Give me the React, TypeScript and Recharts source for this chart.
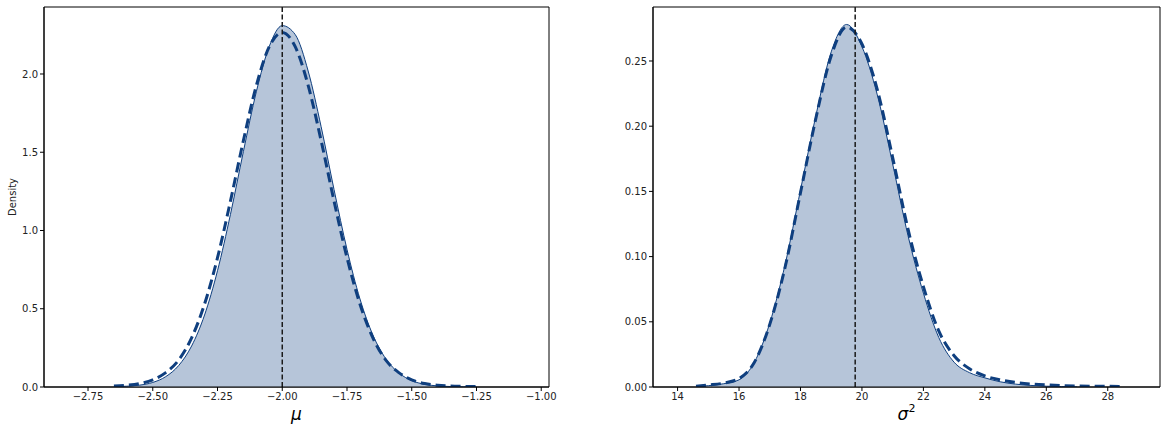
import React from 'react';
import { ComposedChart, Area, Line, XAxis, YAxis, ReferenceLine, ReferenceArea } from 'recharts';

// mu panel: grid, sampled KDE (filled), theoretical density (dashed)
const muGrid = [
  -2.65, -2.6, -2.55, -2.5, -2.45, -2.4, -2.35, -2.3, -2.25, -2.2,
  -2.15, -2.1, -2.05, -2.0, -1.95, -1.9, -1.85, -1.8, -1.75, -1.7,
  -1.65, -1.6, -1.55, -1.5, -1.45, -1.4, -1.35, -1.3, -1.25,
];
const muSample = [
  0.002, 0.005, 0.012, 0.029, 0.066, 0.137, 0.262, 0.46, 0.743, 1.103,
  1.505, 1.887, 2.177, 2.309, 2.252, 2.019, 1.664, 1.261, 0.879, 0.563,
  0.332, 0.18, 0.09, 0.041, 0.017, 0.007, 0.003, 0.001, 0.0005,
];
const muTheory = [
  0.006, 0.011, 0.022, 0.046, 0.092, 0.172, 0.314, 0.53, 0.826, 1.188,
  1.575, 1.927, 2.175, 2.265, 2.175, 1.927, 1.575, 1.188, 0.826, 0.53,
  0.314, 0.172, 0.092, 0.046, 0.022, 0.011, 0.006, 0.004, 0.003,
];
const muTrue = -2.0;
const muXTicks = [-2.75, -2.5, -2.25, -2.0, -1.75, -1.5, -1.25, -1.0];
const muYTicks = [0, 0.5, 1.0, 1.5, 2.0];

// sigma^2 panel
const sigmaGrid = [
  14.6, 15.0, 15.5, 16.0, 16.5, 17.0, 17.5, 18.0, 18.5, 19.0,
  19.5, 20.0, 20.5, 21.0, 21.5, 22.0, 22.5, 23.0, 23.5, 24.0,
  24.5, 25.0, 25.5, 26.0, 26.5, 27.0, 27.5, 28.0, 28.4,
];
const sigmaSample = [
  0.0003, 0.001, 0.0025, 0.0055, 0.019, 0.049, 0.094, 0.151, 0.208, 0.257,
  0.278, 0.261, 0.224, 0.171, 0.116, 0.072, 0.038, 0.019, 0.011, 0.007,
  0.004, 0.0022, 0.0012, 0.0006, 0.0003, 0.0001, null, null, null,
];
const sigmaTheory = [
  0.0005, 0.0015, 0.003, 0.0065, 0.019, 0.048, 0.092, 0.149, 0.206, 0.254,
  0.276, 0.263, 0.228, 0.176, 0.121, 0.077, 0.043, 0.024, 0.014, 0.0085,
  0.0055, 0.0035, 0.0023, 0.0016, 0.0011, 0.0008, 0.0006, 0.0005, 0.0004,
];
const sigmaTrue = 19.78;
const sigmaXTicks = [14, 16, 18, 20, 22, 24, 26, 28];
const sigmaYTicks = [0, 0.05, 0.1, 0.15, 0.2, 0.25];

const LINE = '#0f3f7f';
const FILL = '#b6c5d9';
const TEXT = '#222';

const fmt = (digits: number) => (v: number) => {
  const s = Math.abs(v).toFixed(digits);
  return v < 0 ? '\u2212' + s : s;
};

const XTitle = ({ viewBox, text, sup }: any) => {
  const cx = viewBox.x + viewBox.width / 2;
  return (
    <text x={cx} y={viewBox.y + 33} textAnchor="middle" fontSize={17} fontStyle="italic" fill="#000">
      {text}
      {sup && <tspan dy={-8} fontSize={11} fontStyle="normal">{sup}</tspan>}
    </text>
  );
};

const YTitle = ({ viewBox, text }: any) => {
  const cy = viewBox.y + viewBox.height / 2;
  const x = viewBox.x + 16;
  return (
    <text x={x} y={cy} textAnchor="middle" fontSize={10} fill={TEXT} transform={`rotate(-90, ${x}, ${cy})`}>
      {text}
    </text>
  );
};

type PanelProps = {
  grid: number[];
  sample: (number | null)[];
  theory: number[];
  truth: number;
  xDomain: [number, number];
  yDomain: [number, number];
  xTicks: number[];
  yTicks: number[];
  xDigits: number;
  yDigits: number;
  title: string;
  sup?: string;
  yTitle?: string;
  width: number;
  yAxisWidth: number;
  right: number;
};

function DensityPanel(p: PanelProps) {
  const data = p.grid.map((x, i) => ({ x, sample: p.sample[i], theory: p.theory[i] }));
  return (
    <ComposedChart width={p.width} height={434} data={data} margin={{ top: 7, right: p.right, bottom: 0, left: 0 }}>
      <XAxis
        dataKey="x"
        type="number"
        domain={p.xDomain}
        ticks={p.xTicks}
        allowDataOverflow
        tickFormatter={fmt(p.xDigits)}
        tick={{ fontSize: 10, fill: TEXT }}
        tickLine={{ stroke: '#000' }}
        axisLine={{ stroke: '#000' }}
        tickSize={4}
        tickMargin={2}
        height={47}
        label={<XTitle text={p.title} sup={p.sup} />}
      />
      <YAxis
        type="number"
        domain={p.yDomain}
        ticks={p.yTicks}
        allowDataOverflow
        tickFormatter={fmt(p.yDigits)}
        tick={{ fontSize: 10, fill: TEXT }}
        tickLine={{ stroke: '#000' }}
        axisLine={{ stroke: '#000' }}
        tickSize={4}
        tickMargin={2}
        width={p.yAxisWidth}
        label={p.yTitle ? <YTitle text={p.yTitle} /> : undefined}
      />
      <ReferenceArea
        x1={p.xDomain[0]}
        x2={p.xDomain[1]}
        y1={p.yDomain[0]}
        y2={p.yDomain[1]}
        fill="none"
        stroke="#000"
        strokeWidth={1}
      />
      <Area
        type="monotone"
        dataKey="sample"
        stroke={LINE}
        strokeWidth={1}
        fill={FILL}
        fillOpacity={1}
        dot={false}
        activeDot={false}
        isAnimationActive={false}
      />
      <Line
        type="monotone"
        dataKey="theory"
        stroke={LINE}
        strokeWidth={3}
        strokeDasharray="10 5"
        dot={false}
        activeDot={false}
        isAnimationActive={false}
      />
      <ReferenceLine x={p.truth} stroke="#1a1a1a" strokeWidth={1.5} strokeDasharray="5 2.5" />
    </ComposedChart>
  );
}

export default function App() {
  return (
    <div style={{ position: 'absolute', left: 0, top: 0, width: 1167, height: 434, background: '#fff', fontFamily: 'DejaVu Sans' }}>
      <div style={{ position: 'absolute', left: 0, top: 0 }}>
        <DensityPanel
          grid={muGrid}
          sample={muSample}
          theory={muTheory}
          truth={muTrue}
          xDomain={[-2.92, -0.97]}
          yDomain={[0, 2.428]}
          xTicks={muXTicks}
          yTicks={muYTicks}
          xDigits={2}
          yDigits={1}
          title={'\u03bc'}
          yTitle="Density"
          width={560}
          yAxisWidth={44}
          right={11}
        />
      </div>
      <div style={{ position: 'absolute', left: 600, top: 0 }}>
        <DensityPanel
          grid={sigmaGrid}
          sample={sigmaSample}
          theory={sigmaTheory}
          truth={sigmaTrue}
          xDomain={[13.2, 29.7]}
          yDomain={[0, 0.2914]}
          xTicks={sigmaXTicks}
          yTicks={sigmaYTicks}
          xDigits={0}
          yDigits={2}
          title={'\u03c3'}
          sup="2"
          width={567}
          yAxisWidth={53}
          right={7}
        />
      </div>
    </div>
  );
}
